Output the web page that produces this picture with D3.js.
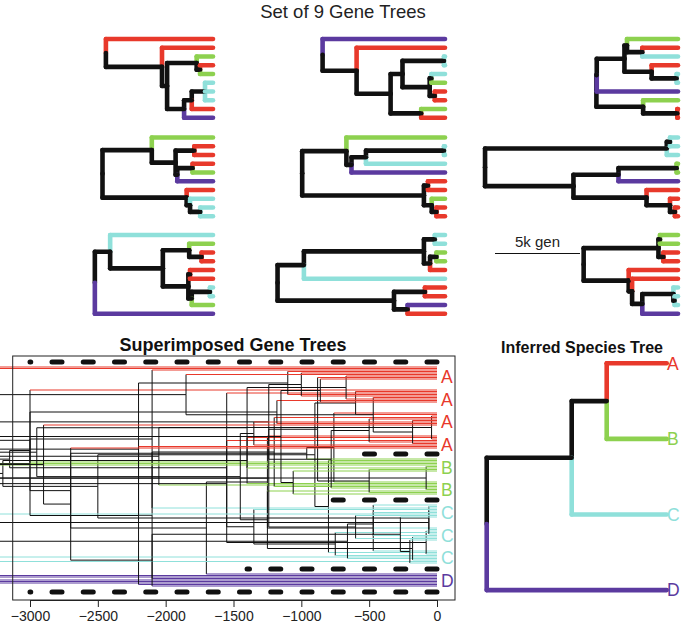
<!DOCTYPE html>
<html><head><meta charset="utf-8">
<script src="https://cdn.jsdelivr.net/npm/d3@7"></script>
<style>
body{margin:0;background:#fff}
svg{display:block}
text{font-family:"Liberation Sans",Arial,Helvetica,sans-serif}
</style>
</head><body><svg id="c" width="685" height="627"></svg>
<script>
// ---------------- DATA ----------------
const speciesNames = ["A", "B", "C", "D"];
const speciesColors = ["#e8392b", "#8dd14f", "#8fe0da", "#5b3a9f"];
// gene trees: internal node = [age (thousand generations), ...children]; tip = species
const tree1 = [6.3, "A", [3.0, "A", [2.7, [0.96, "B", [0.76, "A", "B"]], [1.7, [1.25, [0.47, "C", "C", "C"], "A"], "D"]]]];
const tree2 = [7.2, "D", [5.2, "A", [3.2, [2.5, [0.06, "C", "C"], [0.9, [0.8, "C", "B"], [0.6, "A", "A"]]], [1.4, "B", "A"]]]];
const tree3 = [4.8, [4.78, [3.15, [3.0, "B", [2.1, "A", "C"]], [1.55, "A", [0.08, "C", "C"]]], "D"], [2.05, "B", [0.04, "A", "A"]]];
const tree4 = [6.5, [3.6, "B", [2.2, [1.1, "A", "A"], [2.1, [1.2, "A", "B"], "D"]]], [1.55, "A", [1.35, "C", [0.75, "C", "C"]]]];
const tree5 = [8.4, [5.8, "B", [5.5, [4.65, [0.06, "C", "C"], "C"], "D"]], [1.24, [1.0, "A", "A"], [0.78, "B", [0.5, "A", "A"]]]];
const tree6 = [11.35, [0.66, [0.47, "C", "C"], "C"], [6.15, [3.5, [0.08, "B", "B"], "D"], [1.85, "A", [0.47, "A", [0.18, "A", "A"]]]]];
const tree7 = [6.95, [6.05, "C", [2.95, [1.4, "B", [0.67, "A", "A"]], [1.45, [1.35, "A", "A"], [1.25, [0.18, "C", "C"], "B"]]]], "D"];
const tree8 = [9.85, [8.3, [1.24, [0.6, "C", "C"], [0.88, [0.5, "B", "B"], "A"]], "C"], [3.0, [1.18, "A", "A"], [2.2, "D", "A"]]];
const tree9 = [5.55, [1.15, [1.06, "B", "B"], [0.86, "A", "A"]], [2.9, "A", [2.7, "A", [2.1, [0.27, "C", [0.2, "C", "C"]], "D"]]]];
const geneTrees = [tree1, tree2, tree3, tree4, tree5, tree6, tree7, tree8, tree9];
// inferred species tree: [split age (generations), ...children]
const speciesTree = [1800, [950, [600, "A", "B"], "C"], "D"];
// superimposed plot
const axisTicks = [-3000, -2500, -2000, -1500, -1000, -500, 0];
const slotLabels = ["A", "A", "A", "A", "B", "B", "C", "C", "C", "D"];
const boundarySlots = [0, 4, 6, 9, 10];
const boundaryAges = [3000, 620, 850, 1400, 3000];
const scaleBarK = 5; // "5k gen"

// ---------------- HELPERS ----------------
const svg = d3.select("#c");
const col = sp => sp ? speciesColors[speciesNames.indexOf(sp)] : "#111";

function buildTree(tree) {
  const root = d3.hierarchy(tree, d => Array.isArray(d) ? d.slice(1) : null);
  root.eachAfter(n => {
    n.age = n.children ? n.data[0] : 0;
    n.sp = n.children ? null : n.data;
  });
  return root;
}
function assignY(root, tipY) {
  root.leaves().forEach((l, i) => { l.y = tipY(l, i); });
  root.eachAfter(n => { if (n.children) n.y = d3.mean(n.children, c => c.y); });
}
function drawTree(g, root, x, width, cap, blackVerticals) {
  const edges = root.descendants().slice(1);
  g.append("g").selectAll("line").data(edges).join("line")
    .attr("x1", d => x(d.parent.age)).attr("x2", d => x(d.parent.age))
    .attr("y1", d => d.parent.y).attr("y2", d => d.y)
    .attr("stroke", d => blackVerticals ? "#111" : col(d.sp)).attr("stroke-width", width).attr("stroke-linecap", cap);
  g.append("g").selectAll("line").data(edges).join("line")
    .attr("x1", d => x(d.parent.age)).attr("x2", d => x(d.age))
    .attr("y1", d => d.y).attr("y2", d => d.y)
    .attr("stroke", d => col(d.sp)).attr("stroke-width", width).attr("stroke-linecap", cap);
}

// ---------------- TOP: 9 GENE TREES ----------------
svg.append("text").attr("x", 343).attr("y", 18).attr("text-anchor", "middle")
  .attr("font-size", 18.5).attr("fill", "#222").text("Set of 9 Gene Trees");

const colTipX = [213, 445, 678];
const rowTopY = [39, 137.5, 235];
const tipGap = 8.75;
const pxPerK = 17;

geneTrees.forEach((t, i) => {
  const c = i % 3, r = Math.floor(i / 3);
  const x = d3.scaleLinear().domain([scaleBarK, 0]).range([colTipX[c] - scaleBarK * pxPerK, colTipX[c]]);
  const root = buildTree(t);
  assignY(root, (l, k) => rowTopY[r] + k * tipGap);
  drawTree(svg.append("g"), root, x, 4.6, "round", false);
});

// scale bar
{
  const x = d3.scaleLinear().domain([scaleBarK, 0]).range([495, 495 + scaleBarK * pxPerK]);
  svg.append("line").attr("x1", x(scaleBarK)).attr("x2", x(0)).attr("y1", 253.5).attr("y2", 253.5)
    .attr("stroke", "#111").attr("stroke-width", 1);
  svg.append("text").attr("x", (x(scaleBarK) + x(0)) / 2).attr("y", 247).attr("text-anchor", "middle")
    .attr("font-size", 15).attr("fill", "#222").text(scaleBarK + "k gen");
}

// ---------------- SUPERIMPOSED ----------------
const sx = d3.scaleLinear().domain([-3000, 0]).range([30, 437]);
const slotY = s => 367 + 23 * s;
const box = {x0: 12.7, x1: 455, y0: 356, y1: 600};

svg.append("text").attr("x", 233).attr("y", 351).attr("text-anchor", "middle")
  .attr("font-size", 18).attr("font-weight", "bold").attr("fill", "#111").text("Superimposed Gene Trees");

const sg = svg.append("g");
const slotStart = {A: 0, B: 4, C: 6, D: 9};
geneTrees.forEach((t, ti) => {
  const root = buildTree(t);
  const counts = {A: 0, B: 0, C: 0, D: 0};
  assignY(root, l => slotY(slotStart[l.sp] + counts[l.sp]++) + 1.5 * ti);
  const x = a => sx(-a * 1000);
  drawTree(sg.append("g"), root, x, 1, "butt", true);
});

// species boundaries (dashed)
boundarySlots.forEach((s, i) => {
  const y = slotY(s) - 5;
  svg.append("line").attr("x1", sx(0)).attr("x2", sx(-boundaryAges[i])).attr("y1", y).attr("y2", y)
    .attr("stroke", "#111").attr("stroke-width", 5).attr("stroke-linecap", "round")
    .attr("stroke-dasharray", "10 21.25");
});

svg.append("rect").attr("x", box.x0).attr("y", box.y0).attr("width", box.x1 - box.x0).attr("height", box.y1 - box.y0)
  .attr("fill", "none").attr("stroke", "#222").attr("stroke-width", 1);

const ax = svg.append("g").attr("transform", `translate(0,${box.y1})`)
  .call(d3.axisBottom(sx).tickValues(axisTicks).tickSize(7).tickSizeOuter(0)
    .tickFormat(d => d === 0 ? "0" : "\u2212" + Math.abs(d)));
ax.selectAll("text").attr("font-size", 14).attr("fill", "#222").attr("dy", "0.71em").attr("y", 11)
  .attr("font-family", "Liberation Sans, Arial, sans-serif");
ax.selectAll("line,path").attr("stroke", "#222");

svg.append("g").selectAll("text").data(slotLabels).join("text")
  .attr("x", 441).attr("y", (d, i) => 376.7 + 22.65 * i).attr("dy", "0.36em")
  .attr("font-size", 17.5).attr("fill", d => col(d)).text(d => d);

// ---------------- INFERRED SPECIES TREE ----------------
svg.append("text").attr("x", 582).attr("y", 353).attr("text-anchor", "middle")
  .attr("font-size", 16).attr("font-weight", "bold").attr("fill", "#111").text("Inferred Species Tree");
{
  const root = buildTree(speciesTree);
  const tx = d3.scaleLinear().domain([speciesTree[0], 0]).range([486.7, 666.7]);
  assignY(root, (l, k) => 363.3 + k * 75.6);
  drawTree(svg.append("g"), root, tx, 4.6, "round", false);
  svg.append("g").selectAll("text").data(root.leaves()).join("text")
    .attr("x", 667).attr("y", d => d.y).attr("dy", "0.36em")
    .attr("font-size", 17.5).attr("fill", d => col(d.sp)).text(d => d.sp);
}
</script></body></html>
